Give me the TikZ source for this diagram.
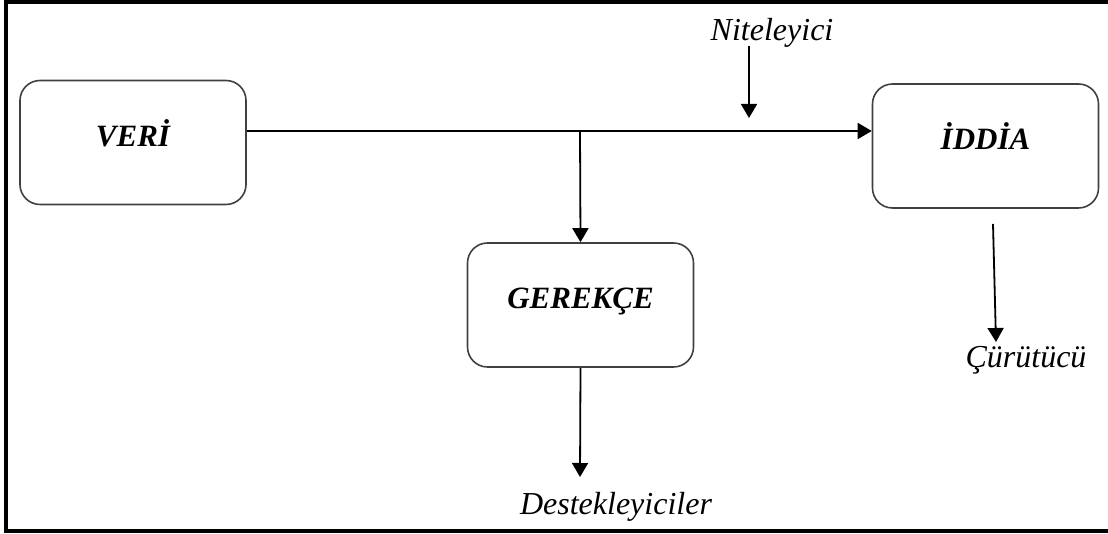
\documentclass[tikz,border=0pt]{standalone}
\usepackage{fontspec}
\setmainfont{Liberation Serif}
\usepackage{tikz}
\usetikzlibrary{arrows.meta}

\begin{document}
\begin{tikzpicture}[x = 25pt, y = 25pt,
        kutu/.style = {draw = black!75, line width = 0.8pt, rounded corners = 10pt,
            minimum width = 113pt, minimum height = 62pt,
            text height = 10pt, text depth = 6pt,
            font = \fontsize{15.5}{18}\selectfont\bfseries\itshape},
        etiket/.style = {inner sep = 0pt, font = \fontsize{16}{19}\selectfont\itshape},
        ok/.style = {-{Triangle[length = 7pt, width = 8pt]}, line width = 0.9pt}]
        \useasboundingbox (0, 0) rectangle (22.16, 10.68);
        \draw [line width = 1.7pt] (22.16, 10.64) -- (0.12, 10.64) -- (0.12, 0.06) -- (22.16, 0.06);
        % kutular
        \node [kutu] (veri) at (2.66, 7.83) {VERİ};
        \node [kutu] (iddia) at (19.71, 7.76) {İDDİA};
        \node [kutu] (gerekce) at (11.61, 4.58) {GEREKÇE};
        % etiketler
        \node [etiket] (niteleyici) at (15.44, 10.02) {Niteleyici};
        \node [etiket] (destek) at (12.32, 0.54) {Destekleyiciler};
        \node [etiket] (curutucu) at (20.52, 3.48) {Çürütücü};
        \coordinate (j) at (11.6, 8.06);
        \coordinate (n1) at (14.98, 9.76);
        \coordinate (n2) at (14.98, 8.32);
        \coordinate (d1) at (11.6, 1.14);
        \coordinate (c1) at (19.86, 6.2);
        \coordinate (c2) at (19.92, 3.84);
        % oklar
        \draw [ok] (veri.east |- j) -- (iddia.west |- j);
        \draw [ok] (j) -- (gerekce.north);
        \draw [ok] (n1) -- (n2);
        \draw [ok] (gerekce.south) -- (d1);
        \draw [ok] (c1) -- (c2);
\end{tikzpicture}
\end{document}
